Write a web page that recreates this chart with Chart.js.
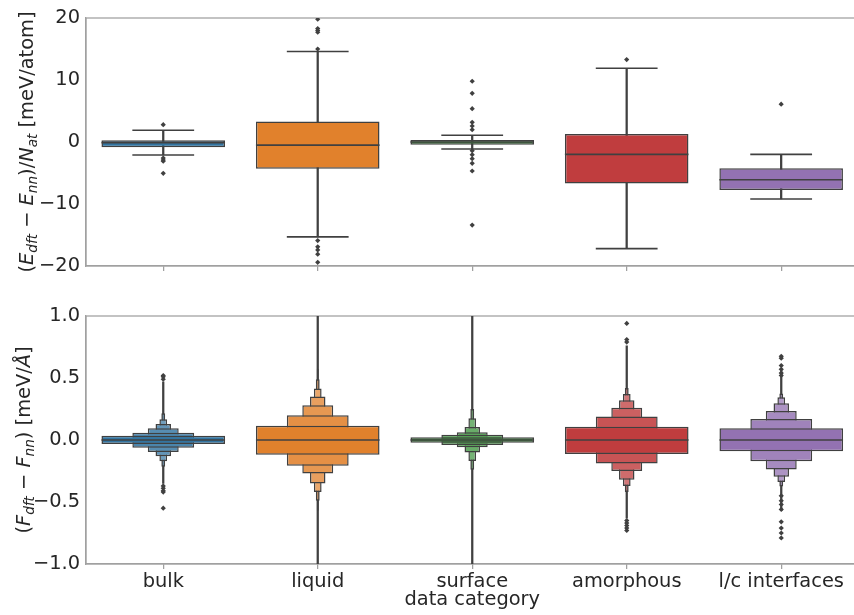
<!DOCTYPE html>
<html>
<head>
<meta charset="utf-8">
<script src="https://cdn.jsdelivr.net/npm/chart.js@4.4.0/dist/chart.umd.min.js"></script>
<style>
  html, body { margin: 0; padding: 0; background: #fff; overflow: hidden; width: 854px; height: 615px; }
  .panel { position: absolute; left: 0; }
</style>
</head>
<body>
<div class="panel" style="top:0"><canvas id="energyChart" width="870" height="290"></canvas></div>
<div class="panel" style="top:290px"><canvas id="forceChart" width="870" height="325"></canvas></div>
<script>
var categories = ['bulk', 'liquid', 'surface', 'amorphous', 'l/c interfaces'];
var energyTicks = [-20, -10, 0, 10, 20];
var forceTicks = [-1.0, -0.5, 0.0, 0.5, 1.0];

// top panel: (E_dft - E_nn)/N_at box plots
var energyQ1 = [-0.85, -4.3, -0.43, -6.7, -7.75];
var energyQ3 = [0.27, 3.3, 0.32, 1.3, -4.25];
var energyMedian = [-0.1, -0.5, 0.0, -2.0, -6.1];
var energyWhiskerLow = [-2.1, -15.3, -1.13, -17.2, -9.2];
var energyWhiskerHigh = [1.9, 14.6, 1.08, 11.9, -2.0];
var energyOutliers = [
  [2.8, -2.6, -2.9, -3.1, -5.05],
  [19.8, 18.3, 18.0, 17.7, 15.0, -15.9, -16.9, -17.4, -18.1, -19.4],
  [9.8, 7.85, 5.37, 3.17, 2.58, 1.99, -1.4, -2.05, -2.69, -3.44, -4.68, -13.4],
  [13.3],
  [6.1]
];

// bottom panel: (F_dft - F_nn) letter-value (boxen) plots, innermost level first
var forceMedian = [0.0, 0.0, 0.0, 0.0, 0.0];
var forceLevelLow = [
  [-0.032, -0.062, -0.097, -0.132, -0.172, -0.215],
  [-0.118, -0.207, -0.27, -0.35, -0.42, -0.49, -0.57],
  [-0.022, -0.04, -0.058, -0.1, -0.17, -0.24],
  [-0.113, -0.19, -0.25, -0.32, -0.37, -0.42],
  [-0.091, -0.172, -0.237, -0.296, -0.339, -0.376]
];
var forceLevelHigh = [
  [0.035, 0.059, 0.094, 0.129, 0.167, 0.215],
  [0.115, 0.2, 0.28, 0.35, 0.415, 0.49, 0.575],
  [0.022, 0.042, 0.062, 0.105, 0.175, 0.25],
  [0.107, 0.19, 0.26, 0.32, 0.37, 0.42],
  [0.094, 0.17, 0.234, 0.296, 0.344, 0.376]
];
var forceTailLow = [-0.35, -1.2, -1.2, -0.63, -0.57];
var forceTailHigh = [0.47, 1.2, 1.2, 0.76, 0.56];
var forceOutliers = [
  [0.52, 0.51, 0.49, -0.37, -0.39, -0.41, -0.42, -0.55],
  [],
  [],
  [0.94, 0.81, 0.79, -0.65, -0.67, -0.69, -0.71, -0.73],
  [0.675, 0.66, 0.6, 0.57, 0.54, 0.52, -0.45, -0.49, -0.52, -0.56, -0.66, -0.71, -0.75, -0.79]
];

var palette = ['#3274a1', '#e1812c', '#3a923a', '#c03d3e', '#9372b2'];
var lineGray = '#404040';
var spineGray = '#a0a0a0';
var textColor = '#262626';
var fontFamily = "'DejaVu Sans', sans-serif";
var fontSize = 19.4;

function lighten(hex, t) {
  var r = parseInt(hex.slice(1, 3), 16), g = parseInt(hex.slice(3, 5), 16), b = parseInt(hex.slice(5, 7), 16);
  r = Math.round(r + (255 - r) * t); g = Math.round(g + (255 - g) * t); b = Math.round(b + (255 - b) * t);
  return 'rgb(' + r + ',' + g + ',' + b + ')';
}

function minusSign(v, digits) {
  return (digits ? v.toFixed(digits) : String(v)).replace('-', '\u2212');
}

// fraction of a category slot, in pixels
function slotRadius(frac) {
  return function (c) {
    var area = c.chart.chartArea;
    return area ? area.width / categories.length * frac : 10;
  };
}

function pointsFrom(valuesPerCat) {
  var pts = [];
  valuesPerCat.forEach(function (vals, i) {
    vals.forEach(function (v) { pts.push({ x: categories[i], y: v }); });
  });
  return pts;
}

function pairs(lows, highs) {
  return lows.map(function (lo, i) { return [lo, highs[i]]; });
}

// frame + rotated y label with sub-scripts
var framePlugin = {
  id: 'frame',
  beforeDatasetsDraw: function (chart) {
    var a = chart.chartArea, ctx = chart.ctx;
    ctx.save();
    ctx.strokeStyle = spineGray;
    ctx.lineWidth = 1.25;
    ctx.strokeRect(a.left, a.top, a.right - a.left, a.bottom - a.top);
    ctx.restore();
  },
  afterDraw: function (chart, args, opts) {
    var parts = opts.parts;
    if (!parts) return;
    var ctx = chart.ctx, a = chart.chartArea;
    var fontOf = function (p) {
      var size = p.sub ? 13.6 : fontSize;
      return (p.it ? 'italic ' : '') + size + 'px ' + fontFamily;
    };
    ctx.save();
    ctx.translate(opts.x, (a.top + a.bottom) / 2);
    ctx.rotate(-Math.PI / 2);
    var total = 0;
    parts.forEach(function (p) { ctx.font = fontOf(p); p.w = ctx.measureText(p.t).width; total += p.w; });
    var cur = -total / 2;
    ctx.fillStyle = textColor;
    ctx.textBaseline = 'alphabetic';
    ctx.textAlign = 'left';
    parts.forEach(function (p) {
      ctx.font = fontOf(p);
      ctx.fillText(p.t, cur, p.sub ? 4 : 0);
      cur += p.w;
    });
    ctx.restore();
  }
};

function xScale(showLabels, height) {
  return {
    type: 'category',
    offset: true,
    grid: { display: true, drawOnChartArea: false, drawTicks: true, tickLength: 5, offset: false, color: spineGray, lineWidth: 1.25 },
    border: { display: true, color: spineGray, width: 1.25 },
    ticks: { display: showLabels, color: textColor, font: { family: fontFamily, size: fontSize }, padding: 1, maxRotation: 0, autoSkip: false },
    title: { display: showLabels, text: 'data category', color: textColor, font: { family: fontFamily, size: fontSize }, padding: { top: 0, bottom: 3 } },
    afterFit: function (s) { s.height = height; }
  };
}

function yScale(min, max, step, digits) {
  return {
    min: min, max: max,
    grid: { display: false, drawTicks: false },
    border: { display: true, color: spineGray, width: 1.25 },
    ticks: {
      stepSize: step, padding: 6, color: textColor, font: { family: fontFamily, size: fontSize },
      callback: function (v) { return minusSign(v, digits); }
    },
    afterFit: function (s) { s.width = 86; }
  };
}

// ---------- top: energy box plots ----------
var capPoints = [];
categories.forEach(function (c, i) {
  capPoints.push({ x: c, y: energyWhiskerLow[i] });
  capPoints.push({ x: c, y: energyWhiskerHigh[i] });
});

new Chart(document.getElementById('energyChart'), {
  type: 'bar',
  data: {
    labels: categories,
    datasets: [
      {
        type: 'scatter', data: pointsFrom(energyOutliers), order: 0,
        pointStyle: 'rectRot', radius: 2.6, backgroundColor: lineGray, borderColor: lineGray, borderWidth: 0
      },
      {
        type: 'scatter', data: categories.map(function (c, i) { return { x: c, y: energyMedian[i] }; }), order: 1,
        pointStyle: 'line', radius: slotRadius(0.4), borderColor: lineGray, borderWidth: 1.6
      },
      {
        type: 'scatter', data: capPoints, order: 1,
        pointStyle: 'line', radius: slotRadius(0.2), borderColor: lineGray, borderWidth: 1.6
      },
      {
        data: pairs(energyQ1, energyQ3), order: 2, grouped: false,
        barPercentage: 0.8, categoryPercentage: 1,
        backgroundColor: palette, borderColor: lineGray, borderWidth: 1.5, borderSkipped: false
      },
      {
        data: pairs(energyWhiskerLow, energyWhiskerHigh), order: 3, grouped: false,
        barThickness: 1.6, backgroundColor: lineGray, borderWidth: 0
      }
    ]
  },
  options: {
    responsive: false,
    animation: false,
    layout: { padding: { top: 18, right: 8, left: 0, bottom: 0 } },
    plugins: {
      legend: { display: false },
      tooltip: { enabled: false },
      frame: {
        x: 33,
        parts: [
          { t: '(' }, { t: 'E', it: true }, { t: 'dft', it: true, sub: true }, { t: ' \u2212 ' },
          { t: 'E', it: true }, { t: 'nn', it: true, sub: true }, { t: ')/' },
          { t: 'N', it: true }, { t: 'at', it: true, sub: true }, { t: ' [meV/atom]' }
        ]
      }
    },
    scales: {
      x: xScale(false, 24),
      y: yScale(energyTicks[0], energyTicks[energyTicks.length - 1], 10, 0)
    }
  },
  plugins: [framePlugin]
});

// ---------- bottom: force boxen plots ----------
var levelTint = [0, 0.12, 0.18, 0.24, 0.3, 0.36, 0.42];
var maxLevels = Math.max.apply(null, forceLevelLow.map(function (l) { return l.length; }));
var forceDatasets = [
  {
    type: 'scatter', data: pointsFrom(forceOutliers), order: 0,
    pointStyle: 'rectRot', radius: 2.6, backgroundColor: lineGray, borderColor: lineGray, borderWidth: 0
  },
  {
    type: 'scatter', data: categories.map(function (c, i) { return { x: c, y: forceMedian[i] }; }), order: 1,
    pointStyle: 'line', radius: slotRadius(0.4), borderColor: lineGray, borderWidth: 1.5
  }
];
for (var k = 0; k < maxLevels; k++) {
  forceDatasets.push({
    data: categories.map(function (c, i) {
      return forceLevelLow[i][k] != null ? [forceLevelLow[i][k], forceLevelHigh[i][k]] : null;
    }),
    order: 2 + k, grouped: false,
    barPercentage: 0.8 * Math.pow(0.5, k), categoryPercentage: 1,
    backgroundColor: palette.map(function (p) { return lighten(p, levelTint[k]); }),
    borderColor: lineGray, borderWidth: 1.5, borderSkipped: false
  });
}
forceDatasets.push({
  data: pairs(forceTailLow, forceTailHigh), order: 20, grouped: false, clip: 0,
  barThickness: 1.6, backgroundColor: lineGray, borderWidth: 0
});

new Chart(document.getElementById('forceChart'), {
  type: 'bar',
  data: { labels: categories, datasets: forceDatasets },
  options: {
    responsive: false,
    animation: false,
    layout: { padding: { top: 26, right: 8, left: 0, bottom: 0 } },
    plugins: {
      legend: { display: false },
      tooltip: { enabled: false },
      frame: {
        x: 30,
        parts: [
          { t: '(' }, { t: 'F', it: true }, { t: 'dft', it: true, sub: true }, { t: ' \u2212 ' },
          { t: 'F', it: true }, { t: 'nn', it: true, sub: true }, { t: ')' },
          { t: ' [meV/' }, { t: '\u00c5', it: true }, { t: ']' }
        ]
      }
    },
    scales: {
      x: xScale(true, 51),
      y: yScale(forceTicks[0], forceTicks[forceTicks.length - 1], 0.5, 1)
    }
  },
  plugins: [framePlugin]
});
</script>
</body>
</html>
